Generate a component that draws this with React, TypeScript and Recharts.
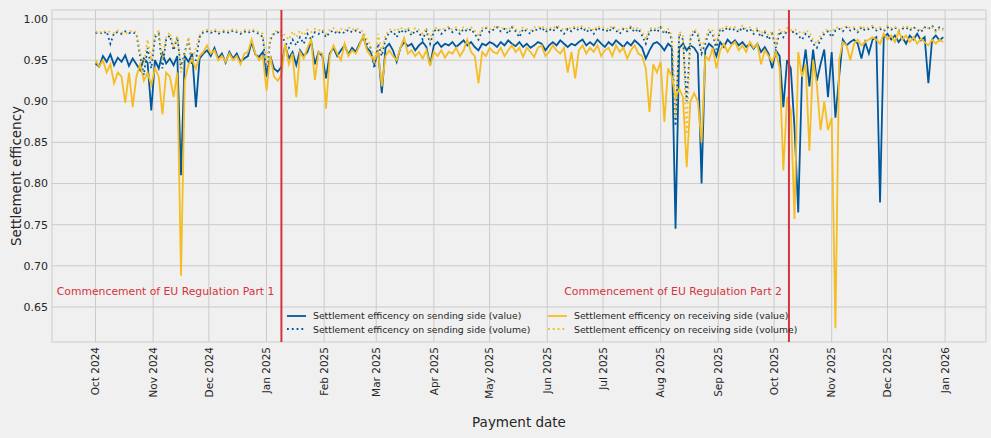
import React from "react";
import { LineChart, Line, XAxis, YAxis, CartesianGrid, ReferenceLine } from "recharts";

const C = {
  bg: "#f0f0f0", grid: "#cbcbcb", text: "#262626", blue: "#00589c",
  yellow: "#f5bd23", red: "#d4343c",
} as const;
const FONT = "'DejaVu Sans', sans-serif";

const DAY = 86400000;
const START = Date.UTC(2024, 9, 1);
const STEP_DAYS = 2;

// settlement efficiency, one reading every second day from 1 Oct 2024
const sendingValue = [
  .946, .942, .955, .948, .957, .944, .953, .948, .956, .943,
  .952, .945, .938, .952, .947, .889, .95, .94, .958, .946,
  .952, .944, .955, .81, .955, .948, .958, .893, .952, .958,
  .962, .955, .965, .952, .958, .947, .96, .952, .958, .948,
  .952, .955, .972, .957, .954, .96, .93, .955, .94, .936,
  .942, .968, .952, .96, .944, .962, .955, .96, .973, .945,
  .96, .955, .928, .958, .965, .955, .962, .968, .957, .965,
  .96, .97, .978, .965, .96, .945, .962, .91, .965, .97,
  .962, .948, .965, .972, .967, .97, .962, .968, .972, .966,
  .944, .968, .972, .966, .97, .968, .972, .966, .97, .974,
  .968, .972, .966, .962, .97, .968, .972, .97, .966, .972,
  .968, .974, .97, .967, .972, .966, .97, .965, .968, .972,
  .97, .962, .968, .972, .968, .974, .97, .966, .97, .968,
  .972, .975, .968, .972, .968, .975, .97, .966, .972, .968,
  .974, .97, .966, .972, .968, .974, .97, .965, .952, .962,
  .97, .972, .968, .962, .97, .966, .745, .965, .97, .962,
  .968, .965, .958, .80, .962, .97, .966, .955, .972, .966,
  .975, .97, .974, .968, .972, .966, .97, .964, .97, .96,
  .966, .958, .94, .962, .955, .893, .95, .94, .868, .765,
  .93, .963, .918, .963, .925, .945, .963, .905, .96, .88,
  .93, .975, .968, .972, .975, .97, .952, .972, .958, .975,
  .978, .777, .978, .982, .975, .98, .972, .978, .97, .98,
  .975, .982, .974, .978, .922, .975, .98, .974, .978,
];

const sendingVolume = [
  .983, .984, .982, .985, .97, .983, .984, .982, .985, .983,
  .984, .982, .955, .932, .965, .94, .978, .982, .94, .975,
  .98, .962, .978, .94, .96, .975, .943, .95, .978, .984,
  .985, .983, .986, .982, .984, .985, .983, .986, .984, .982,
  .985, .983, .986, .984, .982, .978, .935, .975, .982, .984,
  .98, .972, .965, .975, .968, .978, .97, .982, .975, .984,
  .982, .985, .978, .984, .986, .982, .985, .983, .987, .984,
  .986, .984, .982, .97, .965, .94, .97, .955, .975, .984,
  .985, .978, .987, .983, .988, .98, .986, .984, .975, .986,
  .97, .985, .988, .982, .986, .989, .984, .987, .982, .988,
  .985, .988, .982, .975, .986, .989, .984, .987, .99, .985,
  .988, .982, .99, .985, .978, .988, .985, .982, .988, .986,
  .99, .984, .988, .985, .99, .987, .982, .988, .985, .99,
  .986, .99, .984, .988, .982, .99, .986, .988, .984, .99,
  .986, .982, .988, .985, .99, .984, .988, .98, .97, .985,
  .988, .984, .99, .982, .986, .975, .87, .982, .975, .90,
  .975, .985, .98, .958, .97, .985, .982, .963, .988, .985,
  .99, .986, .988, .984, .99, .985, .988, .982, .986, .978,
  .984, .975, .982, .965, .985, .978, .986, .983, .985, .98,
  .975, .982, .978, .97, .965, .975, .982, .985, .978, .986,
  .988, .985, .99, .986, .988, .984, .99, .986, .988, .99,
  .986, .988, .985, .99, .987, .99, .985, .988, .99, .986,
  .99, .987, .984, .99, .988, .992, .986, .99, .988,
];

const receivingValue = [
  .95, .942, .95, .935, .945, .922, .935, .93, .898, .935,
  .893, .93, .945, .925, .935, .92, .94, .93, .884, .935,
  .93, .905, .935, .688, .925, .945, .95, .94, .955, .96,
  .968, .958, .962, .95, .955, .948, .958, .95, .955, .945,
  .958, .96, .975, .958, .95, .955, .913, .955, .93, .925,
  .932, .97, .945, .958, .905, .96, .952, .965, .975, .926,
  .96, .958, .891, .955, .968, .958, .95, .97, .955, .962,
  .958, .968, .98, .962, .955, .95, .96, .918, .955, .962,
  .955, .95, .965, .977, .958, .962, .955, .96, .952, .962,
  .943, .96, .955, .962, .953, .96, .958, .965, .955, .962,
  .975, .96, .955, .922, .96, .955, .965, .96, .958, .965,
  .955, .962, .968, .96, .965, .954, .965, .96, .954, .965,
  .968, .955, .96, .968, .962, .958, .965, .935, .96, .928,
  .962, .968, .958, .965, .96, .968, .955, .962, .965, .955,
  .968, .96, .965, .952, .962, .968, .958, .955, .94, .887,
  .945, .935, .948, .875, .94, .93, .905, .915, .905, .82,
  .90, .91, .90, .85, .955, .95, .965, .94, .962, .97,
  .96, .968, .972, .962, .968, .96, .972, .965, .97, .945,
  .962, .955, .948, .96, .94, .816, .905, .89, .757, .96,
  .93, .945, .84, .95, .92, .865, .90, .865, .88, .624,
  .95, .972, .968, .95, .97, .975, .968, .972, .975, .978,
  .975, .97, .982, .975, .98, .972, .985, .975, .98, .972,
  .978, .97, .976, .972, .968, .975, .97, .975, .972,
];

const receivingVolume = [
  .985, .983, .986, .984, .985, .983, .986, .984, .982, .985,
  .986, .984, .96, .945, .975, .95, .982, .985, .95, .978,
  .984, .965, .98, .935, .955, .978, .95, .965, .98, .986,
  .987, .985, .988, .984, .986, .987, .985, .988, .986, .984,
  .987, .985, .988, .986, .984, .982, .945, .978, .984, .986,
  .984, .98, .975, .985, .978, .986, .98, .987, .984, .988,
  .986, .988, .982, .987, .989, .985, .988, .986, .99, .987,
  .989, .987, .985, .975, .968, .945, .982, .96, .98, .987,
  .988, .985, .99, .986, .99, .984, .989, .987, .982, .989,
  .975, .988, .99, .986, .989, .991, .987, .99, .986, .99,
  .988, .99, .986, .98, .989, .991, .987, .99, .992, .988,
  .99, .986, .992, .988, .984, .99, .988, .986, .99, .989,
  .992, .987, .99, .988, .992, .99, .986, .99, .988, .992,
  .989, .992, .987, .99, .986, .992, .989, .99, .987, .992,
  .989, .986, .99, .988, .992, .987, .99, .985, .975, .988,
  .99, .987, .992, .985, .988, .98, .88, .985, .98, .86,
  .98, .988, .984, .965, .975, .988, .986, .97, .99, .988,
  .992, .989, .99, .987, .992, .988, .99, .985, .989, .982,
  .987, .98, .985, .97, .988, .982, .989, .986, .988, .985,
  .982, .986, .984, .975, .97, .98, .986, .988, .984, .99,
  .99, .988, .992, .989, .99, .986, .992, .988, .99, .992,
  .988, .99, .987, .992, .989, .991, .987, .99, .992, .988,
  .99, .988, .986, .99, .989, .99, .984, .988, .986,
];

const tickDates = [
  "2024-10-01", "2024-11-01", "2024-12-01", "2025-01-01", "2025-02-01", "2025-03-01",
  "2025-04-01", "2025-05-01", "2025-06-01", "2025-07-01", "2025-08-01", "2025-09-01",
  "2025-10-01", "2025-11-01", "2025-12-01", "2026-01-01",
];
const tickLabels = [
  "Oct 2024", "Nov 2024", "Dec 2024", "Jan 2025", "Feb 2025", "Mar 2025",
  "Apr 2025", "May 2025", "Jun 2025", "Jul 2025", "Aug 2025", "Sep 2025",
  "Oct 2025", "Nov 2025", "Dec 2025", "Jan 2026",
];
const yTicks = [0.65, 0.7, 0.75, 0.8, 0.85, 0.9, 0.95, 1.0];

const regulationDates = ["2025-01-09", "2025-10-09"];
const regulationLabels = ["Commencement of EU Regulation Part 1", "Commencement of EU Regulation Part 2"];

const SERIES = [
  { key: "sv", name: "Settlement efficency on sending side (value)", color: C.blue, dash: undefined },
  { key: "svol", name: "Settlement efficency on sending side (volume)", color: C.blue, dash: "1.8 3" },
  { key: "rv", name: "Settlement efficency on receiving side (value)", color: C.yellow, dash: undefined },
  { key: "rvol", name: "Settlement efficency on receiving side (volume)", color: C.yellow, dash: "1.8 3" },
];

const data = sendingValue.map((v, i) => ({
  t: START + i * STEP_DAYS * DAY,
  sv: v,
  svol: sendingVolume[i],
  rv: receivingValue[i],
  rvol: receivingVolume[i],
}));

const ticks = tickDates.map(d => Date.parse(d));
const labelOf = new Map(ticks.map((t, i) => [t, tickLabels[i]]));

const MonthTick = ({ x, y, payload }: any) => (
  <text x={x} y={y} transform={`rotate(-90, ${x}, ${y})`} textAnchor="end" dy="0.36em"
    fill={C.text} fontSize={10.5} fontFamily={FONT}>
    {labelOf.get(payload.value)}
  </text>
);

const RegLabel = ({ viewBox, text }: any) => (
  <text x={viewBox.x - 7} y={viewBox.y + viewBox.height * 0.847} textAnchor="end"
    dominantBaseline="central" fill={C.red} fontSize={10.8} fontFamily={FONT}>
    {text}
  </text>
);

function LegendBox() {
  const cols = [[SERIES[0], SERIES[1]], [SERIES[2], SERIES[3]]];
  const colLeft = [286, 547];
  return (
    <>
      {cols.map((col, ci) => col.map((s, ri) => (
        <div key={s.key} style={{ position: "absolute", left: colLeft[ci], top: 309 + ri * 13.6, height: 13,
          display: "flex", alignItems: "center", whiteSpace: "nowrap", fontSize: 9.3, fontFamily: FONT, color: C.text }}>
          <svg width={21} height={6} style={{ marginRight: 6 }}>
            <line x1={1} y1={3} x2={20} y2={3} stroke={s.color} strokeWidth={1.8} strokeDasharray={s.dash} />
          </svg>
          {s.name}
        </div>
      )))}
    </>
  );
}

export default function App() {
  return (
    <div style={{ position: "absolute", left: 0, top: 0, width: 991, height: 438, background: C.bg, overflow: "hidden" }}>
      <LineChart width={991} height={438} data={data} margin={{ top: 10, right: 5, bottom: 0, left: 0 }}>
        <CartesianGrid stroke={C.grid} strokeWidth={1} />
        <XAxis dataKey="t" type="number" scale="time" domain={[START - 23.4 * DAY, START + 479 * DAY]}
          ticks={ticks} tick={<MonthTick />} axisLine={false} tickLine={false} tickSize={0} tickMargin={5}
          height={96} allowDataOverflow interval={0} />
        <YAxis type="number" domain={[0.6074, 1.011]} ticks={yTicks} allowDataOverflow width={52}
          axisLine={false} tickLine={false} tickSize={4} tickMargin={0}
          tickFormatter={(v: number) => v.toFixed(2)}
          tick={{ fill: C.text, fontSize: 11, fontFamily: FONT }} />
        {SERIES.map(s => (
          <Line key={s.key} dataKey={s.key} name={s.name} type="linear" stroke={s.color}
            strokeWidth={1.8} strokeDasharray={s.dash} dot={false}
            activeDot={false} isAnimationActive={false} />
        ))}
        {regulationDates.map((d, i) => (
          <ReferenceLine key={d} x={Date.parse(d)} stroke={C.red} strokeWidth={2}
            label={<RegLabel text={regulationLabels[i]} />} />
        ))}
      </LineChart>
      <LegendBox />
      <div style={{ position: "absolute", left: 16, top: 176, transform: "translate(-50%, -50%) rotate(-90deg)",
        whiteSpace: "nowrap", fontSize: 13.5, fontFamily: FONT, color: C.text }}>
        Settlement efficency
      </div>
      <div style={{ position: "absolute", left: 519, top: 422, transform: "translate(-50%, -50%)",
        whiteSpace: "nowrap", fontSize: 13.5, fontFamily: FONT, color: C.text }}>
        Payment date
      </div>
    </div>
  );
}
